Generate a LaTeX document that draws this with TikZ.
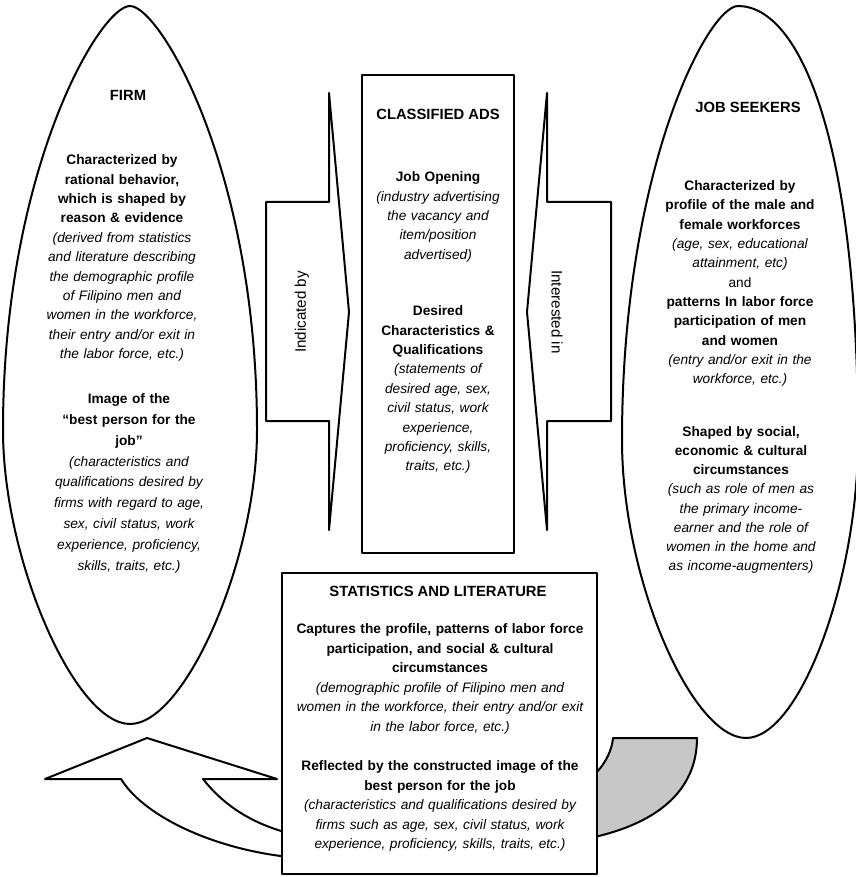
\documentclass[tikz,border=0pt]{standalone}
\usepackage{fontspec}
\setmainfont{Liberation Sans}
\usetikzlibrary{calc,positioning,shapes}

\tikzset{
outline/.style={draw,line width=2pt,line join=round},
txt/.style={inner sep=0pt,anchor=north,text width=320pt,align=center,font=\fontsize{13.7}{19.4}\selectfont},
head/.style={inner sep=0pt,font=\fontsize{14.8}{18}\selectfont\bfseries},
label/.style={inner sep=0pt,font=\fontsize{15.2}{18}\selectfont},
}

\begin{document}
\begin{tikzpicture}[x=1pt,y=-1pt]
\useasboundingbox (0,0) rectangle (855,877);
\draw[outline] (130,6) .. controls (160,6) and (257,170) .. (257,430) .. controls (257,560) and (185,724) .. (130,724) .. controls (75,724) and (3,560) .. (3,430) .. controls (3,170) and (100,6) .. cycle;
\draw[outline] (738,6) .. controls (800,6) and (858,140) .. (858,440) .. controls (858,580) and (800,738) .. (746,738) .. controls (692,738) and (622,580) .. (622,440) .. controls (622,170) and (708,6) .. cycle;
\draw[outline,fill=white] (266,202) -- (329,202) -- (329,93) -- (349,312) -- (329,530) -- (329,421) -- (266,421) -- cycle;
\draw[outline,fill=white] (611,202) -- (547,202) -- (547,93) -- (527,312) -- (547,530) -- (547,421) -- (611,421) -- cycle;
\draw[outline,fill=white] (147,738) -- (277,779) -- (203,779) .. controls (222,803) and (250,825) .. (300,836) -- (300,858) .. controls (220,852) and (145,818) .. (121,779) -- (45,779) -- cycle;
\draw[outline,fill=black!22] (613,738) -- (697,738) .. controls (697,785) and (665,822) .. (590,838) -- (590,774) -- (597,772) .. controls (606,762) and (612,750) .. cycle;
\node[outline,fill=white,minimum width=152pt,minimum height=478pt,inner sep=0pt] (ads) at (438,314) {};
\node[outline,fill=white,minimum width=315pt,minimum height=301pt,inner sep=0pt] (stats) at (439.5,723.5) {};

\node[head] (firm) at (128,95) {FIRM};
\node[txt] (firm1) at (122,154.5) {\bfseries Characterized by\\ rational behavior,\\ which is shaped by\\ reason \& evidence\\ \mdseries\itshape (derived from statistics\\ and literature describing\\ the demographic profile\\ of Filipino men and\\ women in the workforce,\\ their entry and/or exit in\\ the labor force, etc.)};
\node[txt,font=\fontsize{13.7}{20.8}\selectfont] (firm2) at (129,393.5) {\bfseries Image of the\\ “best person for the\\ job”\\ \mdseries\itshape (characteristics and\\ qualifications desired by\\ firms with regard to age,\\ sex, civil status, work\\ experience, proficiency,\\ skills, traits, etc.)};

\node[head] (adstitle) at (438,114) {CLASSIFIED ADS};
\node[txt] (ads1) at (438,171.5) {\bfseries Job Opening\\ \mdseries\itshape (industry advertising\\ the vacancy and\\ item/position\\ advertised)};
\node[txt] (ads2) at (438,305.5) {\bfseries Desired\\ Characteristics \&\\ Qualifications\\ \mdseries\itshape (statements of\\ desired age, sex,\\ civil status, work\\ experience,\\ proficiency, skills,\\ traits, etc.)};

\node[head] (seekers) at (748,107) {JOB SEEKERS};
\node[txt,font=\fontsize{13.7}{19.3}\selectfont] (seek1) at (740,180.5) {\bfseries Characterized by\\ profile of the male and\\ female workforces\\ \mdseries\itshape (age, sex, educational\\ attainment, etc)\\ \upshape and\\ \bfseries patterns In labor force\\ participation of men\\ and women\\ \mdseries\itshape (entry and/or exit in the\\ workforce, etc.)};
\node[txt,font=\fontsize{13.7}{19.1}\selectfont] (seek2) at (741,426.5) {\bfseries Shaped by social,\\ economic \& cultural\\ circumstances\\ \mdseries\itshape (such as role of men as\\ the primary income-\\ earner and the role of\\ women in the home and\\ as income-augmenters)};

\node[head] (statstitle) at (438,591) {STATISTICS AND LITERATURE};
\node[txt,font=\fontsize{13.7}{19.5}\selectfont] (stat1) at (440,623.5) {\bfseries Captures the profile, patterns of labor force\\ participation, and social \& cultural\\ circumstances\\ \mdseries\itshape (demographic profile of Filipino men and\\ women in the workforce, their entry and/or exit\\ in the labor force, etc.)};
\node[txt,font=\fontsize{13.7}{19.5}\selectfont] (stat2) at (440,760.5) {\bfseries Reflected by the constructed image of the\\ best person for the job\\ \mdseries\itshape (characteristics and qualifications desired by\\ firms such as age, sex, civil status, work\\ experience, proficiency, skills, traits, etc.)};

\node[label,rotate=90] (indicated) at (302,312) {Indicated by};
\node[label,rotate=-90] (interested) at (557,312) {Interested in};
\end{tikzpicture}
\end{document}
